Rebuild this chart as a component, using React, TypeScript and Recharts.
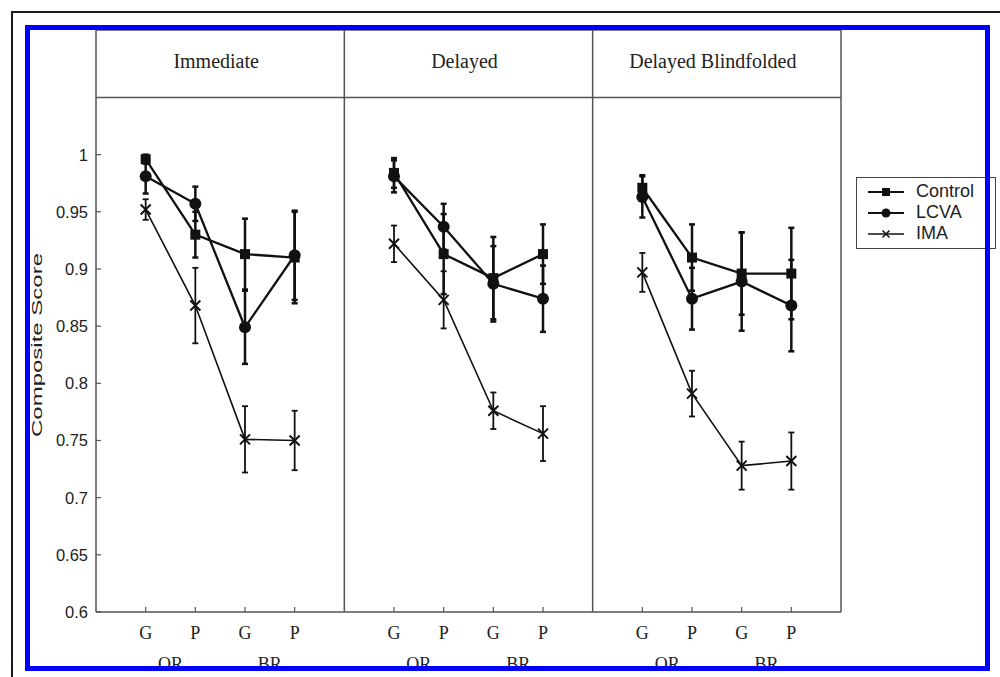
import React from 'react';
import { LineChart, Line, XAxis, YAxis, ErrorBar, ReferenceLine, ReferenceArea, Legend } from 'recharts';

const panels = ['Immediate', 'Delayed', 'Delayed Blindfolded'];
const conditions = ['G', 'P', 'G', 'P'];
const groups = ['OR', 'BR'];
const seriesNames = ['Control', 'LCVA', 'IMA'];
const yTicks = [0.6, 0.65, 0.7, 0.75, 0.8, 0.85, 0.9, 0.95, 1];

// 4 points per panel: OR-G, OR-P, BR-G, BR-P
const controlMean = [0.996, 0.930, 0.913, 0.910, 0.984, 0.913, 0.892, 0.913, 0.971, 0.910, 0.896, 0.896];
const controlErr = [0.004, 0.020, 0.031, 0.040, 0.013, 0.035, 0.036, 0.026, 0.011, 0.029, 0.036, 0.040];
const lcvaMean = [0.981, 0.957, 0.849, 0.912, 0.981, 0.937, 0.887, 0.874, 0.963, 0.874, 0.889, 0.868];
const lcvaErr = [0.015, 0.015, 0.032, 0.039, 0.014, 0.020, 0.033, 0.029, 0.018, 0.027, 0.043, 0.040];
const imaMean = [0.952, 0.868, 0.751, 0.750, 0.922, 0.873, 0.776, 0.756, 0.897, 0.791, 0.728, 0.732];
const imaErr = [0.009, 0.033, 0.029, 0.026, 0.016, 0.025, 0.016, 0.024, 0.017, 0.020, 0.021, 0.025];

const AXIS = '#555';
const INK = '#111';
const SERIF = "'Liberation Serif', 'Times New Roman', serif";
const SANS = "'Liberation Sans', Arial, sans-serif";

// one empty slot between panels so lines break there
const rows: any[] = [];
panels.forEach((_, p) => {
  conditions.forEach((_, i) => {
    const k = p * 4 + i;
    rows.push({
      x: p * 5 + i + 1,
      control: controlMean[k], controlErr: controlErr[k],
      lcva: lcvaMean[k], lcvaErr: lcvaErr[k],
      ima: imaMean[k], imaErr: imaErr[k],
    });
  });
  if (p < panels.length - 1) rows.push({ x: p * 5 + 5, control: null, lcva: null, ima: null });
});
const xTicks = rows.filter(r => r.control !== null).map(r => r.x);
const groupTicks = panels.flatMap((_, p) => [p * 5 + 1.5, p * 5 + 3.5]);

const SquareDot = ({ cx, cy }: any) =>
  cx == null || cy == null ? null : <rect x={cx - 5} y={cy - 5} width={10} height={10} fill={INK} />;
const CircleDot = ({ cx, cy }: any) =>
  cx == null || cy == null ? null : <circle cx={cx} cy={cy} r={6} fill={INK} />;
const CrossDot = ({ cx, cy }: any) =>
  cx == null || cy == null ? null : (
    <path d={`M${cx - 5},${cy - 5}L${cx + 5},${cy + 5}M${cx - 5},${cy + 5}L${cx + 5},${cy - 5}`} stroke={INK} strokeWidth={2} />
  );

const ScoreTick = ({ x, y, payload }: any) => (
  <g>
    <line x1={x} y1={y} x2={x + 5} y2={y} stroke={AXIS} strokeWidth={1.2} />
    <text x={x - 8} y={y} dy={6} textAnchor="end" fontFamily={SANS} fontSize={16.5} fill="#222">{payload.value}</text>
  </g>
);

const CondTick = ({ x, y, payload }: any) => (
  <g>
    <line x1={x} y1={y} x2={x} y2={y - 5} stroke={AXIS} strokeWidth={1.2} />
    <text x={x} y={y + 27} textAnchor="middle" fontFamily={SERIF} fontSize={18} fill="#222">
      {conditions[(Math.round(payload.value) % 5) - 1]}
    </text>
  </g>
);

const GroupTick = ({ x, y, payload }: any) => (
  <text x={x} y={y + 20} textAnchor="middle" fontFamily={SERIF} fontSize={18} fill="#222">
    {groups[Math.floor(payload.value % 5) < 2 ? 0 : 1]}
  </text>
);

const YLabel = ({ viewBox }: any) => {
  const cx = viewBox.x + 1;
  const cy = viewBox.y + viewBox.height / 2 + 24;
  return (
    <text transform={`translate(${cx},${cy}) rotate(-90) scale(1.6,1)`} textAnchor="middle" dy={5}
      fontFamily={SANS} fontSize={15} fill="#222">Composite Score</text>
  );
};

const LegendIcon = ({ i }: { i: number }) => (
  <svg width={36} height={14} style={{ marginRight: 12 }}>
    <line x1={0} y1={7} x2={36} y2={7} stroke={INK} strokeWidth={i === 2 ? 1.5 : 2} />
    {i === 0 && <rect x={14} y={3} width={8} height={8} fill={INK} />}
    {i === 1 && <circle cx={18} cy={7} r={4.5} fill={INK} />}
    {i === 2 && <path d="M14.5,3.5L21.5,10.5M14.5,10.5L21.5,3.5" stroke={INK} strokeWidth={1.5} />}
  </svg>
);

const LegendBox = () => (
  <div style={{ border: '1px solid #444', background: '#fff', width: 140, height: 72, boxSizing: 'border-box', padding: '3px 0 0 11px' }}>
    {seriesNames.map((n, i) => (
      <div key={n} style={{ display: 'flex', alignItems: 'center', height: 21, fontFamily: SANS, fontSize: 18, color: '#222' }}>
        <LegendIcon i={i} />
        {n}
      </div>
    ))}
  </div>
);

export default function App() {
  return (
    <div style={{ position: 'absolute', left: 0, top: 0, width: 1000, height: 677, overflow: 'hidden', background: '#fff' }}>
      <div style={{ position: 'absolute', left: 11, top: 11, width: 989, height: 2, background: '#1a1a1a' }} />
      <div style={{ position: 'absolute', left: 11, top: 11, width: 2, height: 666, background: '#1a1a1a' }} />
      <div style={{ position: 'absolute', left: 0, top: 0 }}>
        <LineChart width={1000} height={677} data={rows} margin={{ top: 30, right: 159, bottom: 0, left: 36 }}>
          <XAxis xAxisId="b" type="number" dataKey="x" domain={[0, 15]} ticks={groupTicks} interval={0}
            tickSize={0} tickMargin={0} tick={<GroupTick />} axisLine={false} tickLine={false} height={27} />
          <XAxis xAxisId="a" type="number" dataKey="x" domain={[0, 15]} ticks={xTicks} interval={0}
            tickSize={0} tickMargin={0} tick={<CondTick />} axisLine={{ stroke: AXIS, strokeWidth: 1.5 }} height={38} />
          <YAxis type="number" domain={[0.6, 1.109]} ticks={yTicks} interval={0} allowDataOverflow width={60}
            tickSize={0} tickMargin={0} tick={<ScoreTick />} axisLine={{ stroke: AXIS, strokeWidth: 1.5 }}
            label={{ content: <YLabel /> }} />
          <ReferenceLine xAxisId="a" y={1.05} stroke={AXIS} strokeWidth={1.5} />
          <ReferenceLine xAxisId="a" y={1.109} stroke={AXIS} strokeWidth={1.5} />
          <ReferenceLine xAxisId="a" x={5} stroke={AXIS} strokeWidth={1.5} />
          <ReferenceLine xAxisId="a" x={10} stroke={AXIS} strokeWidth={1.5} />
          <ReferenceLine xAxisId="a" x={15} stroke={AXIS} strokeWidth={1.5} />
          {panels.map((t, p) => (
            <ReferenceArea key={t} xAxisId="a" x1={p * 5} x2={p * 5 + 5} y1={1.05} y2={1.109}
              fillOpacity={0} strokeOpacity={0}
              label={{ value: t, position: 'center', fontFamily: SERIF, fontSize: 20, fill: '#222', dy: -3, dx: -4 }} />
          ))}
          <Line xAxisId="a" dataKey="control" name="Control" stroke={INK} strokeWidth={2.3} dot={<SquareDot />}
            activeDot={false} isAnimationActive={false} connectNulls={false}>
            <ErrorBar dataKey="controlErr" direction="y" width={3} stroke={INK} strokeWidth={2.5} />
          </Line>
          <Line xAxisId="a" dataKey="lcva" name="LCVA" stroke={INK} strokeWidth={2.3} dot={<CircleDot />}
            activeDot={false} isAnimationActive={false} connectNulls={false}>
            <ErrorBar dataKey="lcvaErr" direction="y" width={3} stroke={INK} strokeWidth={2.5} />
          </Line>
          <Line xAxisId="a" dataKey="ima" name="IMA" stroke={INK} strokeWidth={1.6} dot={<CrossDot />}
            activeDot={false} isAnimationActive={false} connectNulls={false}>
            <ErrorBar dataKey="imaErr" direction="y" width={3} stroke={INK} strokeWidth={1.8} />
          </Line>
          <Legend content={<LegendBox />} layout="vertical" align="center" verticalAlign="middle"
            wrapperStyle={{ left: 856, top: 177, width: 140 }} />
        </LineChart>
      </div>
      <div style={{ position: 'absolute', left: 25, top: 25, width: 965, height: 646, border: '5px solid #0000ff', boxSizing: 'border-box', pointerEvents: 'none' }} />
    </div>
  );
}
